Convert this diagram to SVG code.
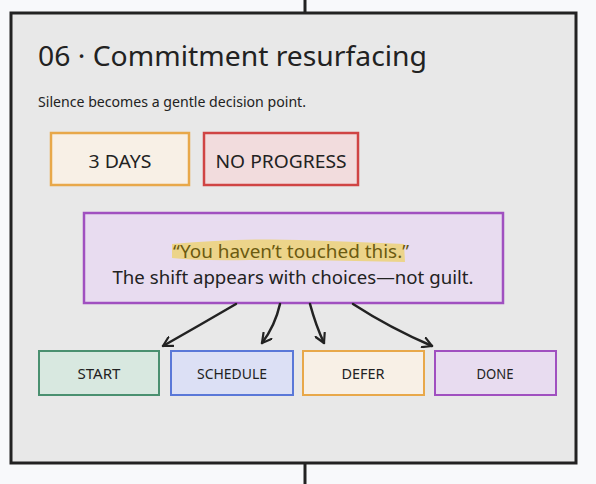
<svg xmlns="http://www.w3.org/2000/svg" width="596" height="484" viewBox="0 0 596 484">
<defs>
<style>
text{font-family:"Noto Sans","Open Sans",sans-serif;fill:#222}
.tag{font-size:18.5px;text-anchor:middle}
.opt{font-size:14px;text-anchor:middle}
.conn path{fill:none;stroke:#222;stroke-width:2.5;stroke-linecap:round}
</style>
<marker id="ah" viewBox="0 0 12 12" refX="10" refY="6" markerWidth="12" markerHeight="12" markerUnits="userSpaceOnUse" orient="auto">
<path d="M1,1 L10,6 L1,11" fill="none" stroke="#222" stroke-width="2.2" stroke-linecap="round" stroke-linejoin="round"/>
</marker>
</defs>
<rect width="596" height="484" fill="#f8f9fb"/>
<line x1="305" y1="0" x2="305" y2="14" stroke="#222" stroke-width="3"/>
<line x1="305" y1="463" x2="305" y2="484" stroke="#222" stroke-width="3"/>
<g id="frame">
<rect x="11" y="13" width="565" height="450" fill="#e8e8e8" stroke="#222" stroke-width="3"/>
<text x="38" y="66" font-size="28" textLength="389" lengthAdjust="spacingAndGlyphs">06 · Commitment resurfacing</text>
<text x="38" y="107" font-size="14" textLength="268" lengthAdjust="spacingAndGlyphs">Silence becomes a gentle decision point.</text>
</g>
<g id="tag-days">
<rect x="51" y="133" width="138" height="52" fill="#f8f0e6" stroke="#e8a84a" stroke-width="2.5"/>
<text class="tag" x="120" y="168" textLength="63" lengthAdjust="spacingAndGlyphs">3 DAYS</text>
</g>
<g id="tag-noprogress">
<rect x="204" y="133" width="154" height="52" fill="#f2dcdd" stroke="#d04444" stroke-width="2.5"/>
<text class="tag" x="281" y="168" textLength="131" lengthAdjust="spacingAndGlyphs">NO PROGRESS</text>
</g>
<g id="callout">
<rect x="84" y="213" width="419" height="90" fill="#e8dcf0" stroke="#a050c0" stroke-width="2.5"/>
<path d="M172,244 Q240,238 300,240 Q360,242 404,244 L405,262 Q330,260 250,260 Q200,261 172,258 Z" fill="#ecd48a"/>
<text x="291" y="258" font-size="18.5" text-anchor="middle" textLength="236" lengthAdjust="spacingAndGlyphs" style="fill:#6b5a10">“You haven’t touched this.”</text>
<text x="293" y="284" font-size="18.5" text-anchor="middle" textLength="361" lengthAdjust="spacingAndGlyphs">The shift appears with choices—not guilt.</text>
</g>
<g class="conn" id="connectors">
<path d="M236,304 Q200,325 163,346" marker-end="url(#ah)"/>
<path d="M280,304 Q275,326 262,343" marker-end="url(#ah)"/>
<path d="M310,304 Q316,326 324,343" marker-end="url(#ah)"/>
<path d="M353,304 Q390,328 432,346" marker-end="url(#ah)"/>
</g>
<g id="start">
<rect x="39" y="351" width="120" height="44" fill="#d8e8e0" stroke="#4a9070" stroke-width="2"/>
<text class="opt" x="99" y="379" textLength="43" lengthAdjust="spacingAndGlyphs">START</text>
</g>
<g id="schedule">
<rect x="171" y="351" width="122" height="44" fill="#dce0f5" stroke="#5a78d8" stroke-width="2"/>
<text class="opt" x="232" y="379" textLength="70" lengthAdjust="spacingAndGlyphs">SCHEDULE</text>
</g>
<g id="defer">
<rect x="303" y="351" width="121" height="44" fill="#f8f0e6" stroke="#e8a84a" stroke-width="2"/>
<text class="opt" x="363" y="379" textLength="43" lengthAdjust="spacingAndGlyphs">DEFER</text>
</g>
<g id="done">
<rect x="435" y="351" width="121" height="44" fill="#e8dcf0" stroke="#a050c0" stroke-width="2"/>
<text class="opt" x="495" y="379" textLength="37" lengthAdjust="spacingAndGlyphs">DONE</text>
</g>
</svg>
